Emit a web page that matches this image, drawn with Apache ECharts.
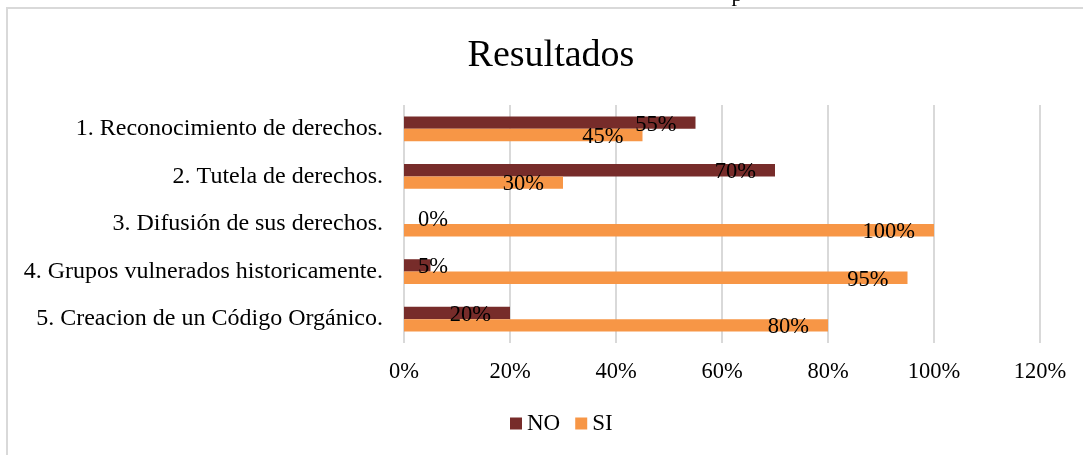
<!DOCTYPE html>
<html>
<head>
<meta charset="utf-8">
<script src="https://cdn.jsdelivr.net/npm/echarts@6/dist/echarts.min.js"></script>
<style>
html,body{margin:0;padding:0;background:#fff;}
#chart{width:1083px;height:455px;}
</style>
</head>
<body>
<div id="chart"></div>
<script>
const categories = [
  "1. Reconocimiento de derechos.",
  "2. Tutela de derechos.",
  "3. Difusión de sus derechos.",
  "4. Grupos vulnerados historicamente.",
  "5. Creacion de un Código Orgánico."
];
const noValues = [55, 70, 0, 5, 20];
const siValues = [45, 30, 100, 95, 80];
const xTicks = [0, 20, 40, 60, 80, 100, 120];

const FONT = "'Liberation Serif', 'Times New Roman', serif";
const NO_COLOR = "#772C2A";
const SI_COLOR = "#F79646";

function makeItems(values) {
  return values.map(v => ({
    value: v,
    label: v < 10
      ? { position: "insideLeft", distance: 14 }
      : { position: "insideRight", distance: 19 }
  }));
}

const labelBase = {
  show: true,
  color: "#000",
  fontFamily: FONT,
  fontSize: 22.5,
  offset: [0, 2],
  formatter: p => p.value + "%"
};

const chart = echarts.init(document.getElementById("chart"));
chart.setOption({
  animation: false,
  backgroundColor: "#fff",
  textStyle: { fontFamily: FONT },
  title: {
    text: "Resultados",
    left: 546,
    textAlign: "center",
    top: 32,
    textStyle: { fontFamily: FONT, fontSize: 38, fontWeight: "normal", color: "#000" }
  },
  graphic: [
    {
      type: "rect",
      shape: { x: 7, y: 8, width: 1090, height: 470 },
      style: { fill: "none", stroke: "#d9d9d9", lineWidth: 2 },
      silent: true
    },
    {
      type: "text",
      x: 737,
      y: -5,
      style: { text: "p", fontFamily: FONT, fontSize: 22, fill: "#000", align: "center", verticalAlign: "middle" },
      silent: true
    }
  ],
  legend: {
    left: 505,
    top: 407,
    itemWidth: 12,
    itemHeight: 12,
    itemGap: 15,
    icon: "rect",
    textStyle: { fontFamily: FONT, fontSize: 23, color: "#000", padding: [0, 0, 0, 0] },
    data: ["NO", "SI"]
  },
  grid: { left: 404, right: 43, top: 105, bottom: 112, containLabel: false },
  xAxis: {
    type: "value",
    min: xTicks[0],
    max: xTicks[xTicks.length - 1],
    interval: 20,
    axisLine: { show: false },
    axisTick: { show: false },
    splitLine: { show: true, lineStyle: { color: "#d9d9d9", width: 2 } },
    axisLabel: {
      margin: 18,
      fontFamily: FONT,
      fontSize: 22.5,
      color: "#000",
      formatter: v => v + "%"
    }
  },
  yAxis: {
    type: "category",
    inverse: true,
    data: categories,
    axisLine: { show: false },
    axisTick: { show: false },
    axisLabel: { margin: 21, fontFamily: FONT, fontSize: 24, color: "#000" }
  },
  series: [
    {
      name: "NO",
      type: "bar",
      data: makeItems(noValues),
      itemStyle: { color: NO_COLOR },
      barGap: "0%",
      barCategoryGap: "48%",
      label: labelBase
    },
    {
      name: "SI",
      type: "bar",
      data: makeItems(siValues),
      itemStyle: { color: SI_COLOR },
      barGap: "0%",
      barCategoryGap: "48%",
      label: labelBase
    }
  ]
});
</script>
</body>
</html>
